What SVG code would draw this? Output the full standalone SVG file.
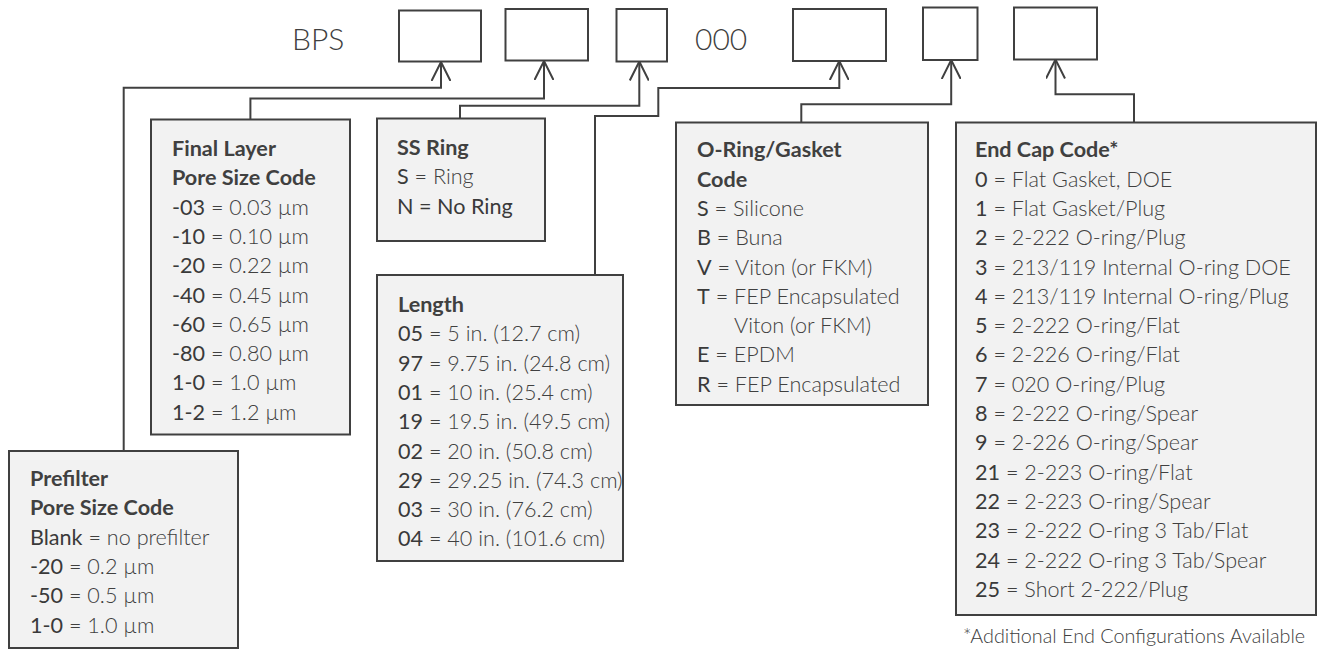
<svg xmlns="http://www.w3.org/2000/svg" width="1318" height="652" viewBox="0 0 1318 652">
<defs>
<style>
.slot{fill:#ffffff;stroke:#404040;stroke-width:2}
.box{fill:#f2f2f2;stroke:#404040;stroke-width:2}
.conn{fill:none;stroke:#404040;stroke-width:2}
.t{font-family:Lato,"Open Sans","Liberation Sans",sans-serif;font-size:21.6px;fill:#404040}
.h{font-weight:700}
.c{font-weight:400;fill:#3a3a3a}
.d{font-weight:300;fill:#404040}
.big{font-family:Lato,"Open Sans","Liberation Sans",sans-serif;font-size:30px;font-weight:300;fill:#404040}
.note{font-family:Lato,"Open Sans","Liberation Sans",sans-serif;font-size:19.8px;font-weight:300;fill:#404040}
</style>
<marker id="arr" viewBox="0 0 20 20" markerWidth="20" markerHeight="20" refX="19" refY="10" orient="auto" markerUnits="userSpaceOnUse">
<path d="M0,0.5 L19,10 L0,19.5" fill="none" stroke="#404040" stroke-width="2"/>
</marker>
</defs>
<rect width="1318" height="652" fill="#ffffff"/>

<g id="code-line">
<text class="big" x="292" y="50">BPS</text>
<rect id="slot1" class="slot" x="399" y="10.5" width="82" height="51"/>
<rect id="slot2" class="slot" x="505.5" y="9" width="82.5" height="51.5"/>
<rect id="slot3" class="slot" x="616.5" y="9" width="50.5" height="52.5"/>
<text class="big" x="695" y="50">000</text>
<rect id="slot4" class="slot" x="793" y="9" width="93" height="52"/>
<rect id="slot5" class="slot" x="923" y="7.5" width="54.5" height="52.5"/>
<rect id="slot6" class="slot" x="1014" y="7.5" width="83" height="52"/>
</g>

<g id="connectors">
<path class="conn" d="M123.7,451 V87.7 H441 V62" marker-end="url(#arr)"/>
<path class="conn" d="M250.4,119.5 V98.5 H544 V61" marker-end="url(#arr)"/>
<path class="conn" d="M460,118.5 V105.8 H639.3 V61.5" marker-end="url(#arr)"/>
<path class="conn" d="M595,275 V116 H658.3 V88 H839.3 V61" marker-end="url(#arr)"/>
<path class="conn" d="M801.3,122.5 V104.3 H951.2 V60" marker-end="url(#arr)"/>
<path class="conn" d="M1134,122.5 V94.3 H1055.5 V59.5" marker-end="url(#arr)"/>
</g>

<g id="prefilter">
<rect class="box" x="9" y="451" width="229" height="197"/>
<text class="t" x="30">
<tspan class="h" x="30" y="486">Prefilter</tspan>
<tspan class="h" x="30" y="515.3">Pore Size Code</tspan>
<tspan x="30" y="544.6"><tspan class="c">Blank</tspan><tspan class="d"> = no prefilter</tspan></tspan>
<tspan x="30" y="573.9"><tspan class="c">-20</tspan><tspan class="d"> = 0.2 µm</tspan></tspan>
<tspan x="30" y="603.2"><tspan class="c">-50</tspan><tspan class="d"> = 0.5 µm</tspan></tspan>
<tspan x="30" y="632.5"><tspan class="c">1-0</tspan><tspan class="d"> = 1.0 µm</tspan></tspan>
</text>
</g>

<g id="final-layer">
<rect class="box" x="151" y="119.5" width="199" height="315"/>
<text class="t">
<tspan class="h" x="172" y="156">Final Layer</tspan>
<tspan class="h" x="172" y="185.3">Pore Size Code</tspan>
<tspan x="172" y="214.6"><tspan class="c">-03</tspan><tspan class="d"> = 0.03 µm</tspan></tspan>
<tspan x="172" y="243.9"><tspan class="c">-10</tspan><tspan class="d"> = 0.10 µm</tspan></tspan>
<tspan x="172" y="273.2"><tspan class="c">-20</tspan><tspan class="d"> = 0.22 µm</tspan></tspan>
<tspan x="172" y="302.5"><tspan class="c">-40</tspan><tspan class="d"> = 0.45 µm</tspan></tspan>
<tspan x="172" y="331.8"><tspan class="c">-60</tspan><tspan class="d"> = 0.65 µm</tspan></tspan>
<tspan x="172" y="361.1"><tspan class="c">-80</tspan><tspan class="d"> = 0.80 µm</tspan></tspan>
<tspan x="172" y="390.4"><tspan class="c">1-0</tspan><tspan class="d"> = 1.0 µm</tspan></tspan>
<tspan x="172" y="419.7"><tspan class="c">1-2</tspan><tspan class="d"> = 1.2 µm</tspan></tspan>
</text>
</g>

<g id="ss-ring">
<rect class="box" x="377" y="118.5" width="168" height="122.5"/>
<text class="t">
<tspan class="h" x="397" y="155">SS Ring</tspan>
<tspan x="397" y="184.3"><tspan class="c">S</tspan><tspan class="d"> = Ring</tspan></tspan>
<tspan class="c" x="397" y="213.6">N = No Ring</tspan>
</text>
</g>

<g id="length">
<rect class="box" x="377" y="275" width="246" height="286"/>
<text class="t">
<tspan class="h" x="398" y="312">Length</tspan>
<tspan x="398" y="341.3"><tspan class="c">05</tspan><tspan class="d"> = 5 in. (12.7 cm)</tspan></tspan>
<tspan x="398" y="370.6"><tspan class="c">97</tspan><tspan class="d"> = 9.75 in. (24.8 cm)</tspan></tspan>
<tspan x="398" y="399.9"><tspan class="c">01</tspan><tspan class="d"> = 10 in. (25.4 cm)</tspan></tspan>
<tspan x="398" y="429.2"><tspan class="c">19</tspan><tspan class="d"> = 19.5 in. (49.5 cm)</tspan></tspan>
<tspan x="398" y="458.5"><tspan class="c">02</tspan><tspan class="d"> = 20 in. (50.8 cm)</tspan></tspan>
<tspan x="398" y="487.8"><tspan class="c">29</tspan><tspan class="d"> = 29.25 in. (74.3 cm)</tspan></tspan>
<tspan x="398" y="517.1"><tspan class="c">03</tspan><tspan class="d"> = 30 in. (76.2 cm)</tspan></tspan>
<tspan x="398" y="546.4"><tspan class="c">04</tspan><tspan class="d"> = 40 in. (101.6 cm)</tspan></tspan>
</text>
</g>

<g id="o-ring">
<rect class="box" x="676" y="122.5" width="252" height="282.5"/>
<text class="t">
<tspan class="h" x="697" y="157.3">O-Ring/Gasket</tspan>
<tspan class="h" x="697" y="186.6">Code</tspan>
<tspan x="697" y="215.9"><tspan class="c">S</tspan><tspan class="d"> = Silicone</tspan></tspan>
<tspan x="697" y="245.2"><tspan class="c">B</tspan><tspan class="d"> = Buna</tspan></tspan>
<tspan x="697" y="274.5"><tspan class="c">V</tspan><tspan class="d"> = Viton (or FKM)</tspan></tspan>
<tspan x="697" y="303.8"><tspan class="c">T</tspan><tspan class="d"> = FEP Encapsulated</tspan></tspan>
<tspan class="d" x="734" y="333.1">Viton (or FKM)</tspan>
<tspan x="697" y="362.4"><tspan class="c">E</tspan><tspan class="d"> = EPDM</tspan></tspan>
<tspan x="697" y="391.7"><tspan class="c">R</tspan><tspan class="d"> = FEP Encapsulated</tspan></tspan>
</text>
</g>

<g id="end-cap">
<rect class="box" x="956" y="122.5" width="360" height="492.5"/>
<text class="t">
<tspan class="h" x="975" y="157.3">End Cap Code*</tspan>
<tspan x="975" y="186.6"><tspan class="c">0</tspan><tspan class="d"> = Flat Gasket, DOE</tspan></tspan>
<tspan x="975" y="215.9"><tspan class="c">1</tspan><tspan class="d"> = Flat Gasket/Plug</tspan></tspan>
<tspan x="975" y="245.2"><tspan class="c">2</tspan><tspan class="d"> = 2-222 O-ring/Plug</tspan></tspan>
<tspan x="975" y="274.5"><tspan class="c">3</tspan><tspan class="d"> = 213/119 Internal O-ring DOE</tspan></tspan>
<tspan x="975" y="303.8"><tspan class="c">4</tspan><tspan class="d"> = 213/119 Internal O-ring/Plug</tspan></tspan>
<tspan x="975" y="333.1"><tspan class="c">5</tspan><tspan class="d"> = 2-222 O-ring/Flat</tspan></tspan>
<tspan x="975" y="362.4"><tspan class="c">6</tspan><tspan class="d"> = 2-226 O-ring/Flat</tspan></tspan>
<tspan x="975" y="391.7"><tspan class="c">7</tspan><tspan class="d"> = 020 O-ring/Plug</tspan></tspan>
<tspan x="975" y="421"><tspan class="c">8</tspan><tspan class="d"> = 2-222 O-ring/Spear</tspan></tspan>
<tspan x="975" y="450.3"><tspan class="c">9</tspan><tspan class="d"> = 2-226 O-ring/Spear</tspan></tspan>
<tspan x="975" y="479.6"><tspan class="c">21</tspan><tspan class="d"> = 2-223 O-ring/Flat</tspan></tspan>
<tspan x="975" y="508.9"><tspan class="c">22</tspan><tspan class="d"> = 2-223 O-ring/Spear</tspan></tspan>
<tspan x="975" y="538.2"><tspan class="c">23</tspan><tspan class="d"> = 2-222 O-ring 3 Tab/Flat</tspan></tspan>
<tspan x="975" y="567.5"><tspan class="c">24</tspan><tspan class="d"> = 2-222 O-ring 3 Tab/Spear</tspan></tspan>
<tspan x="975" y="596.8"><tspan class="c">25</tspan><tspan class="d"> = Short 2-222/Plug</tspan></tspan>
</text>
<text class="note" x="963" y="643">*Additional End Configurations Available</text>
</g>
</svg>
